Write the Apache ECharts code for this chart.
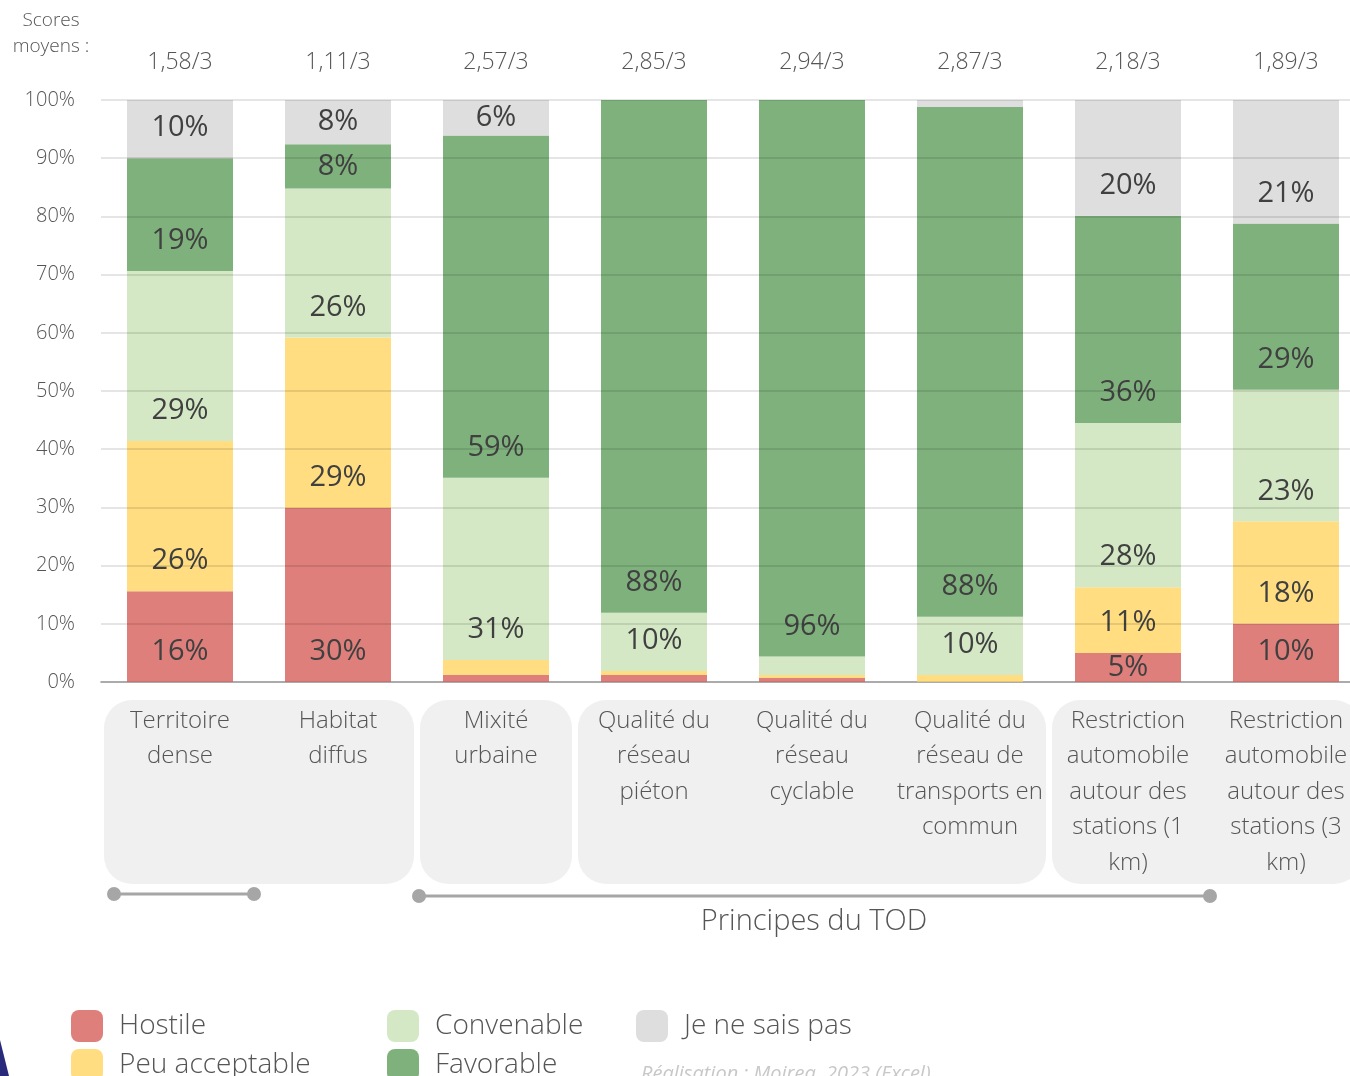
<!DOCTYPE html>
<html>
<head>
<meta charset="utf-8">
<script src="https://cdn.jsdelivr.net/npm/echarts@6/dist/echarts.min.js"></script>
<style>
  html, body { margin: 0; padding: 0; background: #fff; overflow: hidden; }
  /* le graphique d'origine est coupé à droite : la zone dépasse la fenêtre */
  #chart { width: 1365px; height: 1076px; }
</style>
</head>
<body>
<div id="chart"></div>
<script>
// catégories (principes du TOD)
const categories = [
  'Territoire\ndense', 'Habitat\ndiffus', 'Mixité\nurbaine',
  'Qualité du\nréseau\npiéton', 'Qualité du\nréseau\ncyclable',
  'Qualité du\nréseau de\ntransports en\ncommun',
  'Restriction\nautomobile\nautour des\nstations (1\nkm)',
  'Restriction\nautomobile\nautour des\nstations (3\nkm)'
];
const scores = ['1,58/3', '1,11/3', '2,57/3', '2,85/3', '2,94/3', '2,87/3', '2,18/3', '1,89/3'];

// parts en %
const hostile      = [15.6, 29.9, 1.2, 1.2, 0.7, 0, 5.0, 10.0];
const peuAccept    = [25.8, 29.3, 2.6, 0.7, 0.5, 1.2, 11.3, 17.6];
const convenable   = [29.2, 25.6, 31.3, 10.0, 3.2, 10.0, 28.2, 22.6];
const favorable    = [19.4, 7.6, 58.8, 88.1, 95.6, 87.6, 35.6, 28.6];
const neSaisPas    = [10.0, 7.6, 6.2, 0, 0, 1.2, 19.9, 21.2];

const yTicks = [0, 10, 20, 30, 40, 50, 60, 70, 80, 90, 100];

const FONT = '"Open Sans", "Noto Sans", sans-serif';
const GREY_TXT = '#555555';
const W = 300;

const chart = echarts.init(document.getElementById('chart'));

// étiquette : en bas du segment, ou centrée si le segment est petit
function makeData(arr) {
  return arr.map(v => ({
    value: v,
    label: { position: v < 9.9 ? 'inside' : 'insideBottom' }
  }));
}

function makeSeries(name, arr, color) {
  return {
    name: name,
    type: 'bar',
    stack: 'total',
    barWidth: 106,
    itemStyle: { color: color },
    label: {
      show: true,
      distance: 15,
      fontFamily: FONT,
      fontSize: 29,
      lineHeight: 30,
      color: '#404040',
      formatter: p => (p.value >= 4.5 ? Math.round(p.value) + '%' : '')
    },
    emphasis: { disabled: true },
    data: makeData(arr)
  };
}

// une légende par entrée pour placer chaque carré comme dans l'original
function legendItem(name, left, top) {
  return {
    left: left, top: top,
    itemWidth: 32, itemHeight: 32, icon: 'roundRect',
    textStyle: { fontSize: 28, fontWeight: W, color: GREY_TXT, padding: [0, 0, 0, 11], fontFamily: FONT },
    data: [name]
  };
}

const option = {
  animation: false,
  backgroundColor: '#fff',
  textStyle: { fontFamily: FONT },
  grid: { left: 101, right: 0, top: 100, bottom: 394 },
  legend: [
    legendItem('Hostile', 66, 1005),
    legendItem('Peu acceptable', 66, 1044),
    legendItem('Convenable', 382, 1005),
    legendItem('Favorable', 382, 1044),
    legendItem('Je ne sais pas', 631, 1005)
  ],
  xAxis: [
    {
      type: 'category',
      data: categories,
      axisLine: { lineStyle: { color: '#bfbfbf', width: 2 } },
      axisTick: { show: false },
      axisLabel: {
        interval: 0,
        margin: 21,
        fontSize: 24,
        fontWeight: W,
        lineHeight: 35.5,
        color: GREY_TXT,
        fontFamily: FONT
      }
    },
    {
      type: 'category',
      position: 'top',
      data: scores,
      axisLine: { show: false },
      axisTick: { show: false },
      axisLabel: {
        interval: 0,
        margin: 25,
        fontSize: 23,
        fontWeight: W,
        lineHeight: 26,
        color: GREY_TXT,
        fontFamily: FONT
      }
    }
  ],
  yAxis: {
    type: 'value',
    min: yTicks[0],
    max: yTicks[yTicks.length - 1],
    interval: 10,
    z: 3,
    axisLine: { show: false },
    axisTick: { show: false },
    axisLabel: {
      margin: 26,
      fontSize: 20,
      fontWeight: W,
      color: GREY_TXT,
      fontFamily: FONT,
      formatter: '{value}%'
    },
    splitLine: { lineStyle: { color: 'rgba(0,0,0,0.1)', width: 2 } }
  },
  series: [
    makeSeries('Hostile', hostile, '#df7f7c'),
    makeSeries('Peu acceptable', peuAccept, '#ffdd80'),
    makeSeries('Convenable', convenable, '#d4e8c5'),
    makeSeries('Favorable', favorable, '#7fb17c'),
    makeSeries('Je ne sais pas', neSaisPas, '#dedede')
  ]
};

chart.setOption(option);

// cadres arrondis gris derrière les libellés, calés sur l'axe des catégories
const boxGroups = [[0, 1], [2, 2], [3, 5], [6, 7]];
const half = 79;
const graphics = boxGroups.map(g => {
  const x0 = chart.convertToPixel({ xAxisIndex: 0 }, g[0]) - half + 3;
  const x1 = chart.convertToPixel({ xAxisIndex: 0 }, g[1]) + half - 3;
  return {
    type: 'rect', z: -10,
    shape: { x: x0, y: 700, width: x1 - x0, height: 184, r: 28 },
    style: { fill: '#f0f0f0' }
  };
});

// accolades sous les libellés
function bracket(x0, x1, y) {
  return [
    { type: 'line', shape: { x1: x0, y1: y, x2: x1, y2: y }, style: { stroke: '#a6a6a6', lineWidth: 3 } },
    { type: 'circle', shape: { cx: x0, cy: y, r: 7 }, style: { fill: '#a6a6a6' } },
    { type: 'circle', shape: { cx: x1, cy: y, r: 7 }, style: { fill: '#a6a6a6' } }
  ];
}

graphics.push(...bracket(114, 254, 894));
graphics.push(...bracket(419, 1210, 896));

graphics.push(
  {
    type: 'text',
    style: { x: 814, y: 922, text: 'Principes du TOD', fill: GREY_TXT, font: W + ' 29px ' + FONT, align: 'center', verticalAlign: 'middle' }
  },
  {
    type: 'text',
    style: { x: 51, y: 34, text: 'Scores\nmoyens :', fill: GREY_TXT, font: W + ' 19px ' + FONT, lineHeight: 26, align: 'center', verticalAlign: 'middle' }
  },
  {
    type: 'text',
    style: { x: 641, y: 1064, text: 'Réalisation : Moirea, 2023 (Excel)', fill: '#c8c8c8', font: 'italic 20px ' + FONT, align: 'left', verticalAlign: 'top' }
  },
  {
    type: 'polygon',
    shape: { points: [[0, 1040], [9, 1076], [0, 1076]] },
    style: { fill: '#2a2a7c' }
  }
);

chart.setOption({ graphic: graphics });

window.addEventListener('resize', () => chart.resize());
</script>
</body>
</html>
